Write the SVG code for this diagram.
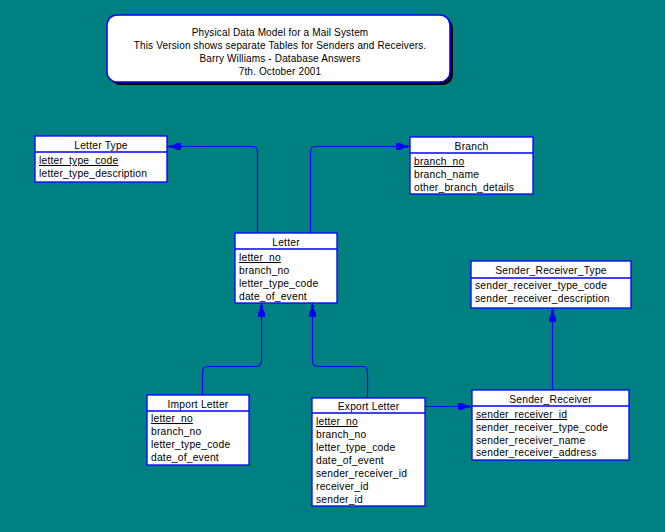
<svg xmlns="http://www.w3.org/2000/svg" width="665" height="532" viewBox="0 0 665 532">
  <style>
    text { font-family: "Liberation Sans", Arial, sans-serif; font-size: 10.3px; letter-spacing: 0.2px; fill: #000; }
    .title { font-size: 10px; letter-spacing: 0.15px; text-anchor: middle; }
    .hdr { text-anchor: middle; }
    .pk { text-decoration: underline; }
    .box { fill: #fff; stroke: #0000ff; stroke-width: 1.3; }
    .div { stroke: #0000ff; stroke-width: 1.3; }
    .conn { fill: none; stroke: #0000ff; stroke-width: 1.2; }
  </style>
  <defs>
    <marker id="one" markerUnits="userSpaceOnUse" viewBox="-15 -5 16 10" refX="0" refY="0" markerWidth="16" markerHeight="10" orient="auto">
      <path d="M-2,-1.5 L-6,-1.5 L-10,-3.5 L-14,-3.5 L-14,3.5 L-10,3.5 L-6,1.5 L-2,1.5 Z" fill="#0000ff"/>
    </marker>
  </defs>

  <rect width="665" height="532" fill="#008080"/>

  <!-- title banner -->
  <g id="title">
    <rect x="110" y="18" width="343" height="67" rx="10" fill="#000"/>
    <rect x="107" y="15" width="343" height="67" rx="10" fill="#fff" stroke="#0000ff" stroke-width="1.5"/>
    <text class="title" x="280" y="35.5">Physical Data Model for a Mail System</text>
    <text class="title" x="280" y="48.5">This Version shows separate Tables for Senders and Receivers.</text>
    <text class="title" x="280" y="61.5">Barry Williams - Database Answers</text>
    <text class="title" x="280" y="74.5">7th. October 2001</text>
  </g>

  <!-- relationships -->
  <g id="connectors">
    <path class="conn" d="M257.5,233 L257.5,152 Q257.5,146.5 252,146.5 L167,146.5" marker-end="url(#one)"/>
    <path class="conn" d="M310.5,233 L310.5,152 Q310.5,146.5 316,146.5 L410,146.5" marker-end="url(#one)"/>
    <path class="conn" d="M202.5,395 L202.5,372 Q202.5,366.5 208,366.5 L256,366.5 Q261.5,366.5 261.5,361 L261.5,303" marker-end="url(#one)"/>
    <path class="conn" d="M367.5,398 L367.5,372 Q367.5,366.5 362,366.5 L318,366.5 Q312.5,366.5 312.5,361 L312.5,303" marker-end="url(#one)"/>
    <path class="conn" d="M425,406.5 L472,406.5" marker-end="url(#one)"/>
    <path class="conn" d="M552.5,390 L552.5,308" marker-end="url(#one)"/>
  </g>

  <g id="letter_type">
    <rect class="box" x="35" y="136" width="132" height="46"/>
    <line class="div" x1="35" y1="152" x2="167" y2="152"/>
    <text class="hdr" x="101" y="149">Letter Type</text>
    <text class="pk" x="39" y="164">letter_type_code</text>
    <text x="39" y="177">letter_type_description</text>
  </g>

  <g id="branch">
    <rect class="box" x="410" y="137" width="123" height="57"/>
    <line class="div" x1="410" y1="153" x2="533" y2="153"/>
    <text class="hdr" x="471.5" y="150">Branch</text>
    <text class="pk" x="414" y="165">branch_no</text>
    <text x="414" y="178">branch_name</text>
    <text x="414" y="191">other_branch_details</text>
  </g>

  <g id="letter">
    <rect class="box" x="235" y="233" width="102" height="70"/>
    <line class="div" x1="235" y1="249" x2="337" y2="249"/>
    <text class="hdr" x="286" y="246">Letter</text>
    <text class="pk" x="239" y="261">letter_no</text>
    <text x="239" y="274">branch_no</text>
    <text x="239" y="287">letter_type_code</text>
    <text x="239" y="300">date_of_event</text>
  </g>

  <g id="sender_receiver_type">
    <rect class="box" x="471" y="261" width="160" height="47"/>
    <line class="div" x1="471" y1="278" x2="631" y2="278"/>
    <text class="hdr" x="551" y="274">Sender_Receiver_Type</text>
    <text x="475" y="289">sender_receiver_type_code</text>
    <text x="475" y="302">sender_receiver_description</text>
  </g>

  <g id="import_letter">
    <rect class="box" x="147" y="395" width="102" height="70"/>
    <line class="div" x1="147" y1="411" x2="249" y2="411"/>
    <text class="hdr" x="198" y="408">Import Letter</text>
    <text class="pk" x="151" y="422">letter_no</text>
    <text x="151" y="435">branch_no</text>
    <text x="151" y="448">letter_type_code</text>
    <text x="151" y="461">date_of_event</text>
  </g>

  <g id="export_letter">
    <rect class="box" x="312" y="398" width="113" height="108"/>
    <line class="div" x1="312" y1="413" x2="425" y2="413"/>
    <text class="hdr" x="368.5" y="410">Export Letter</text>
    <text class="pk" x="316" y="425">letter_no</text>
    <text x="316" y="438">branch_no</text>
    <text x="316" y="451">letter_type_code</text>
    <text x="316" y="464">date_of_event</text>
    <text x="316" y="477">sender_receiver_id</text>
    <text x="316" y="490">receiver_id</text>
    <text x="316" y="502.5">sender_id</text>
  </g>

  <g id="sender_receiver">
    <rect class="box" x="472" y="390" width="157" height="70"/>
    <line class="div" x1="472" y1="406" x2="629" y2="406"/>
    <text class="hdr" x="550.5" y="402.5">Sender_Receiver</text>
    <text class="pk" x="476" y="418">sender_receiver_id</text>
    <text x="476" y="431">sender_receiver_type_code</text>
    <text x="476" y="443.5">sender_receiver_name</text>
    <text x="476" y="456">sender_receiver_address</text>
  </g>
</svg>
